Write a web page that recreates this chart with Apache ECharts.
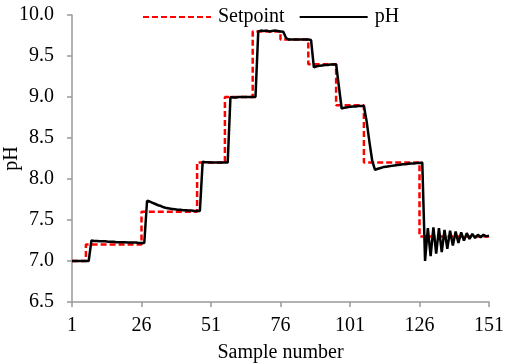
<!DOCTYPE html>
<html>
<head>
<meta charset="utf-8">
<script src="https://cdn.jsdelivr.net/npm/echarts@6/dist/echarts.min.js"></script>
<style>html,body{margin:0;padding:0;background:#fff}#c{width:506px;height:364px}</style>
</head>
<body>
<div id="c"></div>
<script>
// Sample numbers 1..151 (category axis)
var samples = [];
for (var i = 1; i <= 151; i++) samples.push(String(i));

var yTicks = [6.5, 7.0, 7.5, 8.0, 8.5, 9.0, 9.5, 10.0];

var setpoint = [
  7.0,7.0,7.0,7.0,7.0,
  7.2,7.2,7.2,7.2,7.2,7.2,7.2,7.2,7.2,7.2,7.2,7.2,7.2,7.2,7.2,7.2,7.2,7.2,7.2,7.2,
  7.6,7.6,7.6,7.6,7.6,7.6,7.6,7.6,7.6,7.6,7.6,7.6,7.6,7.6,7.6,7.6,7.6,7.6,7.6,7.6,
  8.2,8.2,8.2,8.2,8.2,8.2,8.2,8.2,8.2,8.2,
  9.0,9.0,9.0,9.0,9.0,9.0,9.0,9.0,9.0,9.0,
  9.8,9.8,9.8,9.8,9.8,9.8,9.8,9.8,9.8,9.8,
  9.7,9.7,9.7,9.7,9.7,9.7,9.7,9.7,9.7,9.7,
  9.4,9.4,9.4,9.4,9.4,9.4,9.4,9.4,9.4,9.4,
  8.9,8.9,8.9,8.9,8.9,8.9,8.9,8.9,8.9,8.9,
  8.2,8.2,8.2,8.2,8.2,8.2,8.2,8.2,8.2,8.2,8.2,8.2,8.2,8.2,8.2,8.2,8.2,8.2,8.2,8.2,
  7.3,7.3,7.3,7.3,7.3,7.3,7.3,7.3,7.3,7.3,7.3,7.3,7.3,7.3,7.3,7.3,7.3,7.3,7.3,7.3,7.3,7.3,7.3,7.3,7.3,7.3
];

var ph = [
  7.00,7.00,7.00,7.00,7.00,7.00,7.00,
  7.25,7.245,7.245,7.24,7.24,7.24,7.235,7.235,7.235,7.23,7.23,7.23,7.23,7.225,7.225,7.225,7.225,7.22,7.22,7.22,
  7.735,7.725,7.71,7.695,7.68,7.67,7.655,7.645,7.64,7.635,7.63,7.625,7.625,7.62,7.62,7.615,7.615,7.61,7.61,7.61,
  8.21,8.205,8.205,8.2,8.2,8.2,8.2,8.2,8.2,8.2,
  9.0,8.995,8.995,9.0,9.0,9.0,9.0,9.0,9.0,9.0,
  9.80,9.81,9.805,9.81,9.80,9.805,9.81,9.805,9.80,9.795,
  9.72,9.70,9.70,9.70,9.70,9.70,9.70,9.70,9.70,9.695,
  9.36,9.375,9.38,9.385,9.39,9.39,9.395,9.395,9.40,
  9.13,8.86,8.87,8.875,8.88,8.885,8.885,8.89,8.89,8.89,
  8.70,8.45,8.22,8.11,8.125,8.135,8.145,8.15,8.155,8.16,8.165,8.17,8.175,8.18,8.18,8.185,8.19,8.19,8.195,8.195,8.20,
  7.00,7.40,7.06,7.41,7.09,7.40,7.11,7.38,7.15,7.37,7.19,7.36,7.22,7.35,7.25,7.34,7.27,7.33,7.28,7.32,7.29,7.32,7.30,7.31
];

var FONT = 'Liberation Serif';
var chart = echarts.init(document.getElementById('c'), null, {renderer: 'canvas'});
chart.setOption({
  animation: false,
  backgroundColor: '#fff',
  textStyle: {fontFamily: FONT},
  legend: {
    left: 137, top: 2,
    itemWidth: 68, itemHeight: 14, itemGap: 14,
    itemStyle: {opacity: 0, borderWidth: 0},
    textStyle: {fontFamily: FONT, fontSize: 20, color: '#000', padding: [0, 0, 0, 2]},
    data: ['Setpoint', 'pH']
  },
  grid: {left: 72, right: 17, top: 15, bottom: 62, containLabel: false, outerBoundsMode: 'none'},
  xAxis: {
    type: 'category',
    data: samples,
    boundaryGap: false,
    name: 'Sample number',
    nameLocation: 'middle',
    nameGap: 41,
    nameMoveOverlap: false,
    nameTextStyle: {fontFamily: FONT, fontSize: 20, color: '#000'},
    axisLine: {lineStyle: {color: '#999', width: 1.5}},
    axisTick: {interval: 24, length: 5, lineStyle: {color: '#999', width: 1.5}},
    axisLabel: {interval: 24, margin: 14, fontFamily: FONT, fontSize: 20, color: '#000'},
    splitLine: {show: false}
  },
  yAxis: {
    type: 'value',
    min: yTicks[0], max: yTicks[yTicks.length - 1], interval: 0.5,
    name: 'pH',
    nameLocation: 'middle',
    nameRotate: 90,
    nameGap: 50,
    nameMoveOverlap: false,
    nameTextStyle: {fontFamily: FONT, fontSize: 20, color: '#000'},
    axisLine: {show: true, lineStyle: {color: '#999', width: 1.5}},
    axisTick: {show: true, length: 5, lineStyle: {color: '#999', width: 1.5}},
    axisLabel: {margin: 18, fontFamily: FONT, fontSize: 20, color: '#000',
      formatter: function (v) { return v.toFixed(1); }},
    splitLine: {show: false}
  },
  series: [
    {
      name: 'Setpoint', type: 'line', data: setpoint, step: 'end',
      symbol: 'none', showSymbol: false,
      lineStyle: {color: '#ff0000', width: 2.5, type: [6, 3]},
      itemStyle: {color: '#ff0000'}, z: 2
    },
    {
      name: 'pH', type: 'line', data: ph,
      symbol: 'none', showSymbol: false,
      lineStyle: {color: '#000', width: 2.5},
      itemStyle: {color: '#000'}, z: 3
    }
  ]
});
</script>
</body>
</html>
